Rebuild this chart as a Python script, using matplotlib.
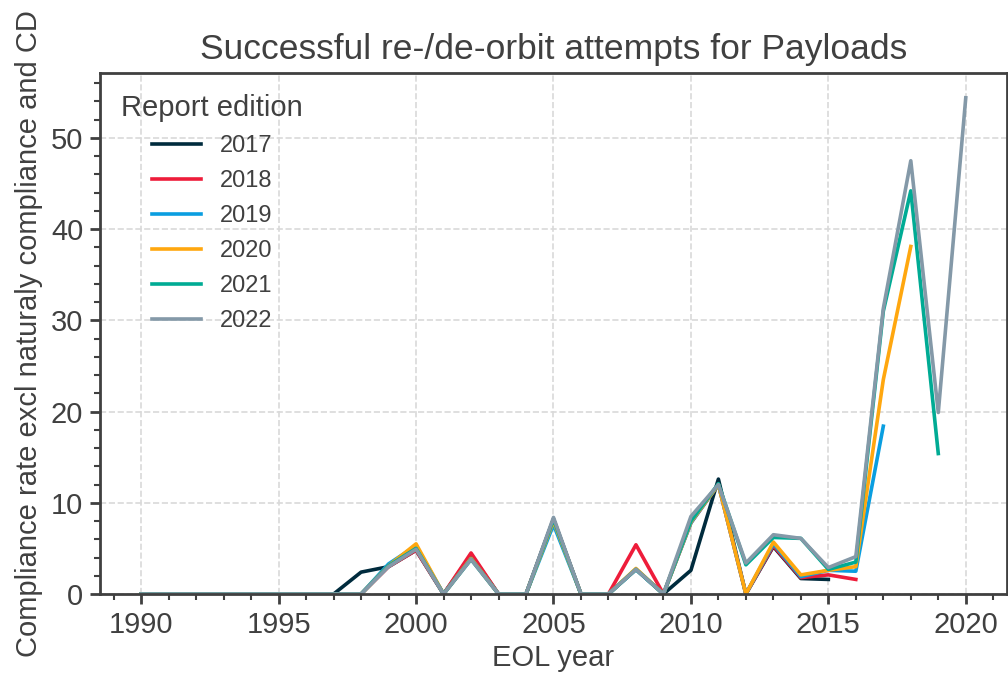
"""Successful re-/de-orbit attempts for payloads, by report edition."""

import matplotlib.pyplot as plt
from matplotlib.ticker import MultipleLocator

TEXT = "#404040"
GRID = "#d9d9d9"

years = list(range(1990, 2021))
editions = ["2017", "2018", "2019", "2020", "2021", "2022"]
colors = ["#002b3d", "#ee1c3a", "#0a9ee0", "#ffa70f", "#00ab94", "#8499a8"]

# one value per EOL year starting at 1990; each edition stops earlier
rate_2017 = [0, 0, 0, 0, 0, 0, 0, 0, 2.4, 3.0, 4.8, 0, 4.3, 0, 0, 8.2, 0, 0, 2.7, 0,
             2.6, 12.6, 0, 5.2, 1.7, 1.6]
rate_2018 = [0, 0, 0, 0, 0, 0, 0, 0, 0, 3.0, 4.8, 0, 4.5, 0, 0, 8.2, 0, 0, 5.4, 0,
             7.8, 12.0, 0, 5.3, 1.8, 2.1, 1.6]
rate_2019 = [0, 0, 0, 0, 0, 0, 0, 0, 0, 3.3, 5.3, 0, 3.9, 0, 0, 7.6, 0, 0, 2.7, 0,
             7.8, 12.0, 0, 5.5, 1.9, 2.6, 2.5, 18.4]
rate_2020 = [0, 0, 0, 0, 0, 0, 0, 0, 0, 3.1, 5.5, 0, 3.9, 0, 0, 8.0, 0, 0, 2.8, 0,
             7.9, 12.0, 0, 5.7, 2.1, 2.6, 3.0, 23.5, 38.1]
rate_2021 = [0, 0, 0, 0, 0, 0, 0, 0, 0, 3.1, 5.0, 0, 3.8, 0, 0, 8.2, 0, 0, 2.7, 0,
             8.0, 12.1, 3.2, 6.2, 6.1, 2.7, 3.5, 31.0, 44.2, 15.4]
rate_2022 = [0, 0, 0, 0, 0, 0, 0, 0, 0, 3.0, 4.9, 0, 3.8, 0, 0, 8.4, 0, 0, 2.7, 0,
             8.5, 12.0, 3.4, 6.5, 6.1, 2.9, 4.1, 31.3, 47.5, 19.9, 54.4]
series = [rate_2017, rate_2018, rate_2019, rate_2020, rate_2021, rate_2022]

plt.rcParams.update(
    {
        "font.family": ["Liberation Sans", "DejaVu Sans"],
        "text.color": TEXT,
        "axes.labelcolor": TEXT,
        "axes.edgecolor": TEXT,
        "xtick.color": TEXT,
        "ytick.color": TEXT,
    }
)

fig, ax = plt.subplots(figsize=(10.08, 6.82), dpi=100)
fig.subplots_adjust(left=0.0992, right=0.999, top=0.893, bottom=0.129)

for name, values, color in zip(editions, series, colors):
    ax.plot(years[: len(values)], values, color=color, linewidth=2.6, label=name)

ax.set_ylim(bottom=0)
ax.xaxis.set_major_locator(MultipleLocator(5))
ax.xaxis.set_minor_locator(MultipleLocator(1))
ax.yaxis.set_major_locator(MultipleLocator(10))
ax.yaxis.set_minor_locator(MultipleLocator(2))

ax.grid(True, which="major", color=GRID, linestyle="--", linewidth=1.2)
ax.set_axisbelow(True)
for spine in ax.spines.values():
    spine.set_linewidth(2)

ax.tick_params(which="major", length=7, width=2, labelsize=21, pad=5)
ax.tick_params(which="minor", length=4, width=1.5)

ax.set_title("Successful re-/de-orbit attempts for Payloads", fontsize=25.5, pad=10)
ax.set_xlabel("EOL year", fontsize=21, labelpad=4)
ax.set_ylabel("Compliance rate excl naturaly compliance and CD", fontsize=21, labelpad=6)

ax.legend(
    title="Report edition",
    loc="upper left",
    frameon=False,
    fontsize=17,
    title_fontsize=21,
    handlelength=2.1,
    labelspacing=0.55,
    borderaxespad=0.5,
)

fig.savefig("out.png", dpi=100)
